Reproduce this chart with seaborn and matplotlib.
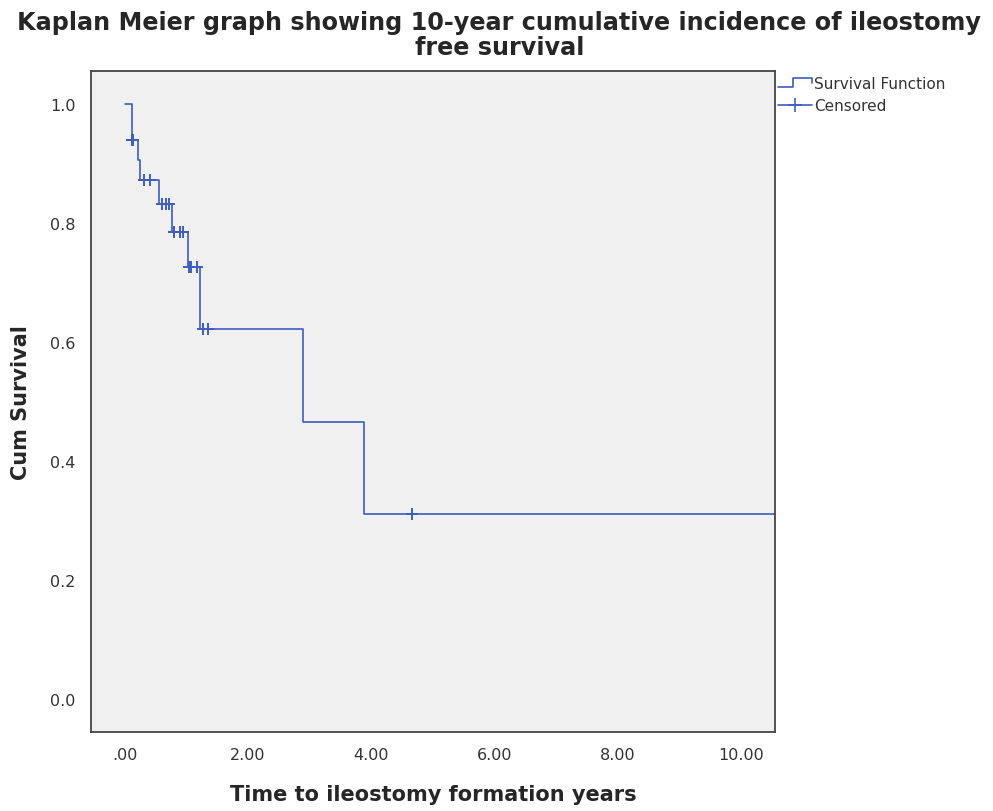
import numpy as np
import pandas as pd
import matplotlib
matplotlib.use("Agg")
import matplotlib.pyplot as plt
import seaborn as sns
from matplotlib.legend_handler import HandlerBase
from matplotlib.lines import Line2D

# ---- data ----
step_times = [0.0, 0.11, 0.21, 0.245, 0.56, 0.77, 1.03, 1.22, 2.89, 3.88]
step_survival = [1.0, 0.939, 0.906, 0.871, 0.832, 0.785, 0.725, 0.621, 0.466, 0.311]
followup_end = 11.0
censor_times = [0.11, 0.13, 0.31, 0.41, 0.60, 0.67, 0.72, 0.80, 0.89, 0.95,
                1.04, 1.08, 1.17, 1.27, 1.35, 4.66]
x_ticks = [0, 2, 4, 6, 8, 10]
x_tick_labels = [".00", "2.00", "4.00", "6.00", "8.00", "10.00"]
y_ticks = [0.0, 0.2, 0.4, 0.6, 0.8, 1.0]
y_tick_labels = ["0.0", "0.2", "0.4", "0.6", "0.8", "1.0"]

LINE = "#3f5cbf"

curve = pd.DataFrame({"time": step_times + [followup_end],
                      "survival": step_survival + [step_survival[-1]]})
idx = np.searchsorted(np.array(step_times), np.array(censor_times), side="right") - 1
cens = pd.DataFrame({"time": censor_times,
                     "survival": np.array(step_survival)[idx]})

sns.set_style("white")
plt.rcParams["font.family"] = ["DejaVu Sans"]

fig = plt.figure(figsize=(9.93, 8.12), dpi=100)
ax = fig.add_axes([0.0916, 0.0973, 0.689, 0.814])
ax.set_facecolor("#f0f0f0")

sns.lineplot(data=curve, x="time", y="survival", drawstyle="steps-post",
             color=LINE, linewidth=1.2, ax=ax, legend=False)
sns.scatterplot(data=cens, x="time", y="survival", marker="+", s=70,
                color=LINE, linewidth=1.4, ax=ax, legend=False, zorder=3)

ax.set_xlim(-0.552, 10.56)
ax.set_ylim(-0.0554, 1.0546)
ax.set_xticks(x_ticks)
ax.set_xticklabels(x_tick_labels)
ax.set_yticks(y_ticks)
ax.set_yticklabels(y_tick_labels)
ax.tick_params(axis="both", direction="out", length=7, width=1.3,
               color="#333333", labelsize=11.5, labelcolor="#333333", pad=4)
for sp in ax.spines.values():
    sp.set_color("#444444")
    sp.set_linewidth(1.3)

ax.set_xlabel("Time to ileostomy formation years", fontsize=15,
              fontweight="bold", labelpad=16)
ax.set_ylabel("Cum Survival", fontsize=15, fontweight="bold", labelpad=14)

fig.text(0.503, 0.986, "Kaplan Meier graph showing 10-year cumulative incidence of ileostomy\nfree survival",
         ha="center", va="top", fontsize=17.2, fontweight="bold",
         linespacing=1.05)


class StepHandler(HandlerBase):
    def create_artists(self, legend, orig_handle, xdescent, ydescent,
                       width, height, fontsize, trans):
        x0, x1 = -xdescent, -xdescent + width
        y0, y1 = -ydescent + 0.1 * height, -ydescent + 0.95 * height
        xs = [x0, x0 + 0.45 * width, x0 + 0.45 * width, x1, x1]
        ys = [y0, y0, y1, y1, y0 + 0.35 * height]
        ln = Line2D(xs, ys, color=LINE, linewidth=1.2, transform=trans)
        return [ln]


class CensorHandler(HandlerBase):
    def create_artists(self, legend, orig_handle, xdescent, ydescent,
                       width, height, fontsize, trans):
        x0, x1 = -xdescent, -xdescent + width
        ym = -ydescent + 0.5 * height
        ln = Line2D([x0, x1], [ym, ym], color=LINE, linewidth=1.2, transform=trans)
        mk = Line2D([(x0 + x1) / 2], [ym], marker="+", markersize=10,
                    markeredgewidth=1.2, color=LINE, transform=trans)
        return [ln, mk]


h1 = Line2D([], [], color=LINE)
h2 = Line2D([], [], color=LINE, marker="+")
fig.legend([h1, h2], ["Survival Function", "Censored"],
           handler_map={h1: StepHandler(), h2: CensorHandler()},
           loc="upper left", bbox_to_anchor=(0.782, 0.907), frameon=False,
           fontsize=11, handlelength=2.2, handletextpad=0.15,
           labelspacing=0.45, borderpad=0.1, borderaxespad=0,
           labelcolor="#333333")

fig.savefig("out.png", dpi=100)
